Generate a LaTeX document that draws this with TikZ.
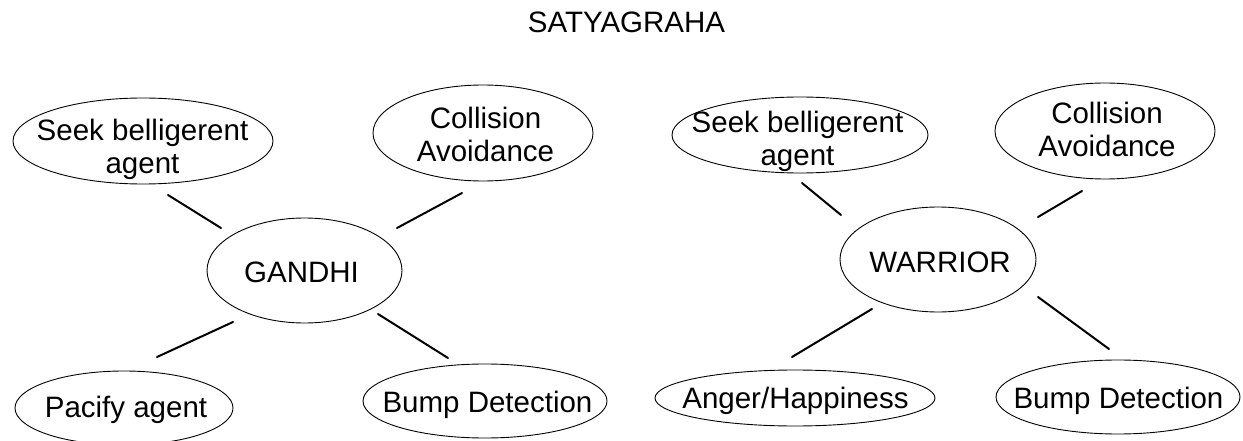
\documentclass[tikz,border=0pt]{standalone}
\usepackage{fontspec}
\setmainfont{Liberation Sans}
\usetikzlibrary{shapes.geometric}
\begin{document}
\begin{tikzpicture}[x=1pt,y=-1pt,
  bubble/.style={draw, ellipse, inner sep=0pt, line width=0.9pt},
  label text/.style={inner sep=0pt, align=center,
    font=\fontsize{29.5}{33}\selectfont},
  link/.style={line width=2pt, line cap=round}]
\useasboundingbox (0,0) rectangle (1243,441);
\fill[white] (0,0) rectangle (1243,441);

% title
\node[label text, anchor=base] (title) at (626.5,33) {SATYAGRAHA};

% GANDHI group
\node[bubble, minimum width=260pt, minimum height=86pt] (seekL) at (143,141) {};
\node[bubble, minimum width=220pt, minimum height=96pt] (collL) at (483,133) {};
\node[bubble, minimum width=195pt, minimum height=105pt] (gandhi) at (304.5,270.5) {};
\node[bubble, minimum width=218pt, minimum height=74pt] (pacify) at (124,408) {};
\node[bubble, minimum width=244pt, minimum height=74pt] (bumpL) at (485,401) {};

\node[label text, anchor=north] (seekLt) at (142.5,119) {Seek belligerent\\agent};
\node[label text, anchor=north] (collLt) at (485.5,107) {Collision\\Avoidance};
\node[label text, anchor=base] (gandhit) at (301.5,282) {GANDHI};
\node[label text, anchor=base] (pacifyt) at (126,417) {Pacify agent};
\node[label text, anchor=base] (bumpLt) at (487.5,412) {Bump Detection};

% WARRIOR group
\node[bubble, minimum width=256pt, minimum height=76pt] (seekR) at (800,135) {};
\node[bubble, minimum width=220pt, minimum height=96pt] (collR) at (1105,131) {};
\node[bubble, minimum width=196pt, minimum height=105pt] (warrior) at (938,259.5) {};
\node[bubble, minimum width=280pt, minimum height=56pt] (anger) at (795,398) {};
\node[bubble, minimum width=244pt, minimum height=74pt] (bumpR) at (1118,397) {};

\node[label text, anchor=north] (seekRt) at (797.5,111) {Seek belligerent\\agent};
\node[label text, anchor=north] (collRt) at (1107,102) {Collision\\Avoidance};
\node[label text, anchor=base] (warriort) at (940,272) {WARRIOR};
\node[label text, anchor=base] (angert) at (795.5,408) {Anger/Happiness};
\node[label text, anchor=base] (bumpRt) at (1118.5,408) {Bump Detection};

% connectors (they stop short of the ellipses)
\draw[link] ([shift={(25,54)}]seekL.center) -- ([shift={(-83.5,-42.5)}]gandhi.center);
\draw[link] ([shift={(-21,60)}]collL.center) -- ([shift={(92.5,-42.5)}]gandhi.center);
\draw[link] ([shift={(-71.5,51.5)}]gandhi.center) -- ([shift={(33,-51)}]pacify.center);
\draw[link] ([shift={(73.5,43.5)}]gandhi.center) -- ([shift={(-37,-43)}]bumpL.center);

\draw[link] ([shift={(2,48)}]seekR.center) -- ([shift={(-97,-44.5)}]warrior.center);
\draw[link] ([shift={(-23,60)}]collR.center) -- ([shift={(100,-42.5)}]warrior.center);
\draw[link] ([shift={(-66,49.5)}]warrior.center) -- ([shift={(-3,-41)}]anger.center);
\draw[link] ([shift={(100,37.5)}]warrior.center) -- ([shift={(-9,-48)}]bumpR.center);
\end{tikzpicture}
\end{document}
